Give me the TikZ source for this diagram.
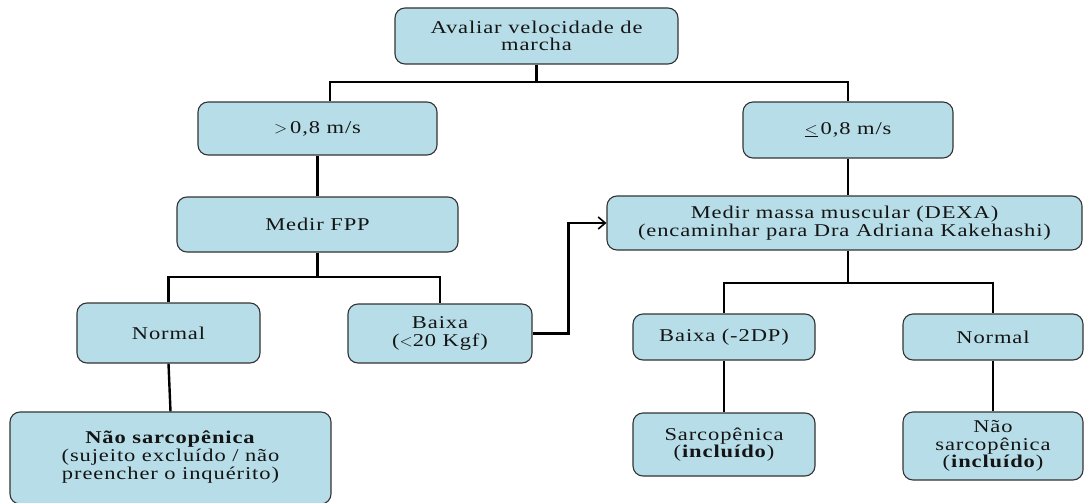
\documentclass[tikz,border=0pt]{standalone}
\usepackage{fontspec}
\setmainfont{Liberation Serif}[FakeStretch=1.25,LetterSpace=5]
\usetikzlibrary{arrows.meta}
\definecolor{boxfill}{HTML}{B7DEE8}
\definecolor{boxline}{HTML}{333333}
\definecolor{txt}{HTML}{141414}
\newcommand{\boxfont}{\fontsize{18pt}{17.5pt}\selectfont}
\tikzset{
  box/.style={draw=boxline, line width=1.1pt, fill=boxfill, rounded corners=10pt,
    align=center, inner sep=2pt, text=txt, font=\boxfont},
  conn/.style={line width=2.4pt, draw=black},
}
\begin{document}
\begin{tikzpicture}[x=1pt,y=1pt]
\useasboundingbox (0,0) rectangle (1084,-503);
% boxes
\node[box, minimum width=283pt, minimum height=56pt] (top) at (536.5,-36) {Avaliar velocidade de\\marcha};
\node[box, minimum width=239pt, minimum height=53pt] (gt) at (317.5,-128.5) {$>$\,0,8 m/s};
\node[box, minimum width=210pt, minimum height=56pt] (le) at (848,-130) {\underline{$<$}\,0,8 m/s};
\node[box, minimum width=281pt, minimum height=55pt] (fpp) at (317.5,-224.5) {Medir FPP};
\node[box, minimum width=475pt, minimum height=54pt] (massa) at (844.5,-223) {Medir massa muscular (DEXA)\\(encaminhar para Dra Adriana Kakehashi)};
\node[box, minimum width=183pt, minimum height=60pt] (normL) at (168.5,-333) {Normal};
\node[box, minimum width=184pt, minimum height=59pt] (baixaL) at (440,-333.5) {Baixa\\($<$20 Kgf)};
\node[box, minimum width=182pt, minimum height=46pt] (baixaR) at (724,-337) {Baixa (-2DP)};
\node[box, minimum width=180pt, minimum height=46pt] (normR) at (993,-337) {Normal};
\node[box, minimum width=321pt, minimum height=92pt] (naoL) at (170.5,-458) {\raisebox{-6pt}{\begin{tabular}{@{}c@{}}\textbf{Não sarcopênica}\\(sujeito excluído / não\\preencher o inquérito)\end{tabular}}};
\node[box, minimum width=182pt, minimum height=63pt] (sarc) at (724,-444.5) {Sarcopênica\\(\textbf{incluído})};
\node[box, minimum width=180pt, minimum height=68pt] (naoR) at (993,-446) {Não\\sarcopênica\\(\textbf{incluído})};
% junctions
\coordinate (j1) at (536.5,-82);
\coordinate (j2) at (317.5,-277);
\coordinate (j3) at (848,-283);
% connectors
\draw[conn] (top.south) -- (j1);
\draw[conn] (j1) -| ([xshift=12.5pt]gt.north);
\draw[conn] (j1) -| (le.north);
\draw[conn] (gt.south) -- (fpp.north);
\draw[conn] (le.south) -- (le.south |- massa.north);
\draw[conn] (fpp.south) -- (j2);
\draw[conn] (j2) -| (normL.north);
\draw[conn] (j2) -| (baixaL.north);
\draw[conn, -{Straight Barb[length=7pt,width=12pt,line width=1.6pt]}] (baixaL.east) -- ++(36,0) |- (massa.west);
\draw[conn] (massa.south -| j3) -- (j3);
\draw[conn] (j3) -| (baixaR.north);
\draw[conn] (j3) -| (normR.north);
\draw[conn] (normL.south) -- (naoL.north);
\draw[conn] (baixaR.south) -- (sarc.north);
\draw[conn] (normR.south) -- (naoR.north);
\end{tikzpicture}
\end{document}
